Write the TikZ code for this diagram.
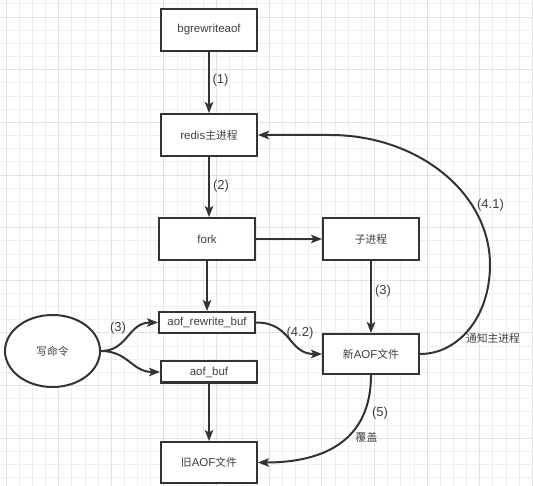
\documentclass[tikz,border=0pt]{standalone}
\usepackage{fontspec}
\setmainfont{Liberation Sans}
\newfontfamily\cjk{Noto Sans CJK SC}
\usetikzlibrary{arrows.meta,shapes.geometric}
\definecolor{ink}{HTML}{333333}
\definecolor{txt}{HTML}{404040}
\definecolor{gminor}{HTML}{EFEFEF}
\definecolor{gmajor}{HTML}{E2E2E2}
\newcommand\zh[1]{{\cjk\fontsize{10.8}{12}\selectfont #1}}
\tikzset{
  x=1pt,y=-1pt,
  boxnode/.style={draw=ink,line width=2pt,fill=white,minimum width=96pt,minimum height=42pt,inner sep=0pt,text=txt,font=\fontsize{11.5}{13}\selectfont},
  bufnode/.style={boxnode,minimum height=21pt},
  ellnode/.style={draw=ink,line width=2pt,fill=white,ellipse,minimum width=95pt,minimum height=72pt,inner sep=0pt,text=txt},
  conn/.style={draw=ink,line width=2pt,-{Stealth[length=11pt,width=8.5pt,inset=2.5pt]}},
  lab/.style={text=txt,font=\fontsize{13}{15}\selectfont,inner sep=0pt},
  gridminor/.style={draw=gminor,line width=1pt},
  gridmajor/.style={draw=gmajor,line width=1pt},
}
\begin{document}
\begin{tikzpicture}
\useasboundingbox (0,0) rectangle (533,486);
\fill[white] (0,0) rectangle (533,486);
% grid
\foreach \i in {0,...,40}{
  \pgfmathsetmacro\gx{6.06+13.16*\i}
  \draw[gridminor] (\gx,0) -- (\gx,486);
}
\foreach \i in {0,4,...,40}{
  \pgfmathsetmacro\gx{6.06+13.16*\i}
  \draw[gridmajor] (\gx,0) -- (\gx,486);
}
\foreach \j in {0,...,37}{
  \pgfmathsetmacro\gy{4+13.16*\j}
  \draw[gridminor] (0,\gy) -- (533,\gy);
}
\foreach \j in {1,5,...,37}{
  \pgfmathsetmacro\gy{4+13.16*\j}
  \draw[gridmajor] (0,\gy) -- (533,\gy);
}
% nodes
\node[boxnode] (bg) at (209,30) {bgrewriteaof};
\node[boxnode] (redis) at (209,135) {redis\zh{主进程}};
\node[boxnode] (fork) at (207,239) {fork};
\node[boxnode] (child) at (371,239) {\zh{子进程}};
\node[bufnode] (arb) at (207,322.5) {aof\_rewrite\_buf};
\node[bufnode] (ab) at (209,372) {aof\_buf};
\node[boxnode,minimum height=40pt] (newaof) at (371,354) {\zh{新}AOF\zh{文件}};
\node[boxnode,minimum height=41pt] (oldaof) at (209,462.5) {\zh{旧}AOF\zh{文件}};
\node[ellnode] (cmd) at (52.5,351) {\zh{写命令}};
% coordinates
\coordinate (c41) at (490,265);
\coordinate (c41b) at (330,135);
% connectors
\draw[conn] (bg.south) -- (redis.north);
\draw[conn] (redis.south) -- (redis.south |- fork.north);
\draw[conn] (fork.east) -- (child.west);
\draw[conn] (fork.south) -- (arb.north);
\draw[conn] (child.south) -- (newaof.north);
\draw[conn] (ab.south) -- (oldaof.north);
\draw[conn] (cmd.east) .. controls (128,351) and (128,322.5) .. (arb.west);
\draw[conn] (cmd.east) .. controls (128,351) and (132,372) .. (ab.west);
\draw[conn] (arb.east) .. controls (292,322.5) and (288,354) .. (newaof.west);
\draw[conn] (newaof.south) .. controls (371,440) and (325,462.5) .. (oldaof.east);
\draw[conn] (newaof.east) .. controls (459,354) and (490,316) .. (c41)
  .. controls (490,193) and (418,135) .. (c41b) -- (redis.east);
% labels
\node[lab] (l1) at (220.5,80) {(1)};
\node[lab] (l2) at (221,186) {(2)};
\node[lab] (l3a) at (383,291) {(3)};
\node[lab] (l3b) at (118,328) {(3)};
\node[lab] (l42) at (300,333) {(4.2)};
\node[lab] (l41) at (490.5,205) {(4.1)};
\node[lab] (ltz) at (493,338) {\zh{通知主进程}};
\node[lab] (l5) at (380,413) {(5)};
\node[lab] (lfg) at (366.5,437) {\zh{覆盖}};
\end{tikzpicture}
\end{document}
